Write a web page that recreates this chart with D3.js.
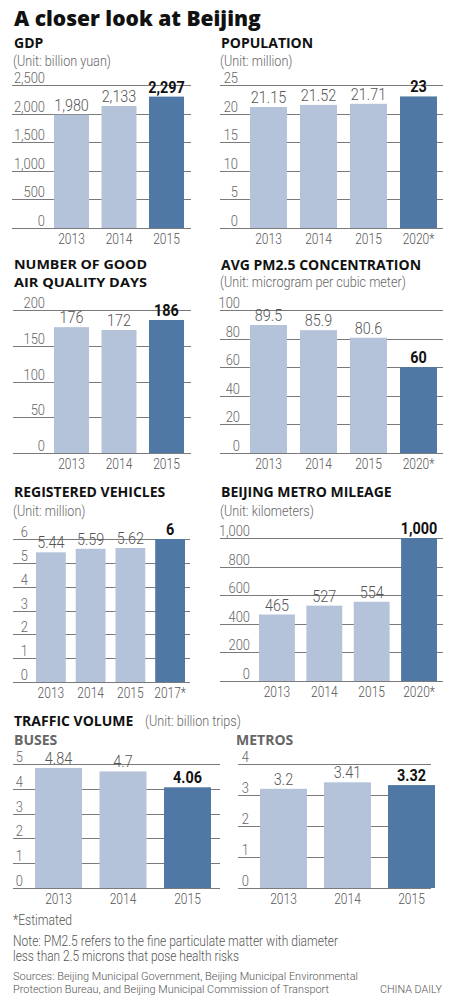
<!DOCTYPE html>
<html><head><meta charset="utf-8">
<script src="https://cdn.jsdelivr.net/npm/d3@7"></script>
<style>
html,body{margin:0;padding:0;background:#fff;}
svg{display:block;}
</style></head>
<body>
<svg id="c" width="454" height="1001"></svg>
<script>
// ---------- data ----------
const gdpYears = ["2013", "2014", "2015"];
const gdpValues = [1980, 2133, 2297];
const gdpTicks = [0, 500, 1000, 1500, 2000, 2500];

const popYears = ["2013", "2014", "2015", "2020*"];
const popValues = [21.15, 21.52, 21.71, 23];
const popTicks = [0, 5, 10, 15, 20, 25];

const airYears = ["2013", "2014", "2015"];
const airValues = [176, 172, 186];
const airTicks = [0, 50, 100, 150, 200];

const pmYears = ["2013", "2014", "2015", "2020*"];
const pmValues = [89.5, 85.9, 80.6, 60];
const pmTicks = [0, 20, 40, 60, 80, 100];

const vehYears = ["2013", "2014", "2015", "2017*"];
const vehValues = [5.44, 5.59, 5.62, 6];
const vehTicks = [0, 1, 2, 3, 4, 5, 6];

const metroYears = ["2013", "2014", "2015", "2020*"];
const metroValues = [465, 527, 554, 1000];
const metroTicks = [0, 200, 400, 600, 800, 1000];

const busYears = ["2013", "2014", "2015"];
const busValues = [4.84, 4.7, 4.06];
const busTicks = [0, 1, 2, 3, 4, 5];

const metroTripYears = ["2013", "2014", "2015"];
const metroTripValues = [3.2, 3.41, 3.32];
const metroTripTicks = [0, 1, 2, 3, 4];

// ---------- styles ----------
const LIGHT = "#b4c3da", DARK = "#4f78a4", GRID = "#7a7a7a";
const NUMFONT = "Roboto, 'Open Sans', sans-serif";
const HEADFONT = "'Open Sans', Roboto, sans-serif";

const svg = d3.select("#c");

function condense(sel, f) {
  sel.each(function () {
    const len = this.getComputedTextLength();
    d3.select(this).attr("textLength", len * f).attr("lengthAdjust", "spacingAndGlyphs");
  });
}

function panel(o) {
  const g = svg.append("g");
  const y = d3.scaleLinear().domain([0, d3.max(o.ticks)]).range([o.y0, o.yTop]);
  const x = d3.scaleBand().domain(o.years).range([o.bx0, o.bx1]).paddingInner(o.pad).paddingOuter(0);

  g.selectAll("line.grid").data(o.ticks).join("line")
    .attr("x1", o.gx0).attr("x2", o.gx1)
    .attr("y1", d => Math.round(y(d)) + 0.5).attr("y2", d => Math.round(y(d)) + 0.5)
    .attr("stroke", GRID).attr("stroke-width", 1);

  const tl = g.selectAll("text.tick").data(o.ticks).join("text")
    .attr("x", o.tickX).attr("y", d => y(d) - 2)
    .attr("text-anchor", "end")
    .attr("font-family", NUMFONT).attr("font-weight", 300).attr("font-size", 15)
    .attr("fill", "#666")
    .text(d => d3.format(",")(d));
  condense(tl, 0.86);

  const n = o.values.length;
  g.selectAll("rect.bar").data(o.values).join("rect")
    .attr("x", (d, i) => x(o.years[i]))
    .attr("width", x.bandwidth())
    .attr("y", d => y(d))
    .attr("height", d => o.y0 - y(d))
    .attr("fill", (d, i) => i === n - 1 ? DARK : LIGHT);

  const vl = g.selectAll("text.val").data(o.values).join("text")
    .attr("x", (d, i) => x(o.years[i]) + x.bandwidth() / 2)
    .attr("y", d => y(d) - 4)
    .attr("text-anchor", "middle")
    .attr("font-family", NUMFONT)
    .attr("font-weight", (d, i) => i === n - 1 ? 700 : 300)
    .attr("font-size", 16)
    .attr("fill", (d, i) => i === n - 1 ? "#111" : "#555")
    .text(d => d3.format(",")(d));
  condense(vl, 0.9);

  const yl = g.selectAll("text.year").data(o.years).join("text")
    .attr("x", d => x(d) + x.bandwidth() / 2)
    .attr("y", o.y0 + 16)
    .attr("text-anchor", "middle")
    .attr("font-family", NUMFONT).attr("font-weight", 300).attr("font-size", 15)
    .attr("fill", "#555")
    .text(d => d);
  condense(yl, 0.8);
}

function head(txt, x, y, size, color, weight) {
  return svg.append("text").attr("x", x).attr("y", y)
    .attr("font-family", HEADFONT).attr("font-weight", weight || 700)
    .attr("font-size", size).attr("fill", color || "#111").text(txt);
}
function unit(txt, x, y) {
  const t = svg.append("text").attr("x", x).attr("y", y)
    .attr("font-family", NUMFONT).attr("font-weight", 300)
    .attr("font-size", 14).attr("fill", "#666").text(txt);
  condense(t, 0.9);
  return t;
}

// Title
head("A closer look at Beijing", 14, 26, 21, "#111", 800);

// GDP
head("GDP", 14, 48, 14);
unit("(Unit: billion yuan)", 13, 66);
panel({years: gdpYears, values: gdpValues, ticks: gdpTicks,
  gx0: 12, gx1: 191, y0: 228, yTop: 85, bx0: 54, bx1: 184, pad: 0.263, tickX: 45});

// Population
head("POPULATION", 221, 48, 14);
unit("(Unit: million)", 220, 66);
panel({years: popYears, values: popValues, ticks: popTicks,
  gx0: 220, gx1: 443, y0: 228, yTop: 85, bx0: 250, bx1: 437, pad: 0.26, tickX: 238});

// Air quality days (two-line heading)
head("NUMBER OF GOOD", 14, 269, 13).attr("textLength", 133).attr("lengthAdjust", "spacingAndGlyphs");
head("AIR QUALITY DAYS", 14, 287, 13).attr("textLength", 133).attr("lengthAdjust", "spacingAndGlyphs");
panel({years: airYears, values: airValues, ticks: airTicks,
  gx0: 13, gx1: 191, y0: 453, yTop: 310, bx0: 54, bx1: 184, pad: 0.263, tickX: 45});

// PM2.5
head("AVG PM2.5 CONCENTRATION", 221, 270, 14);
unit("(Unit: microgram per cubic meter)", 220, 287);
panel({years: pmYears, values: pmValues, ticks: pmTicks,
  gx0: 220, gx1: 443, y0: 453, yTop: 310, bx0: 250, bx1: 437, pad: 0.26, tickX: 240});

// Vehicles
head("REGISTERED VEHICLES", 14, 497, 14);
unit("(Unit: million)", 13, 516);
panel({years: vehYears, values: vehValues, ticks: vehTicks,
  gx0: 13, gx1: 190, y0: 682, yTop: 539, bx0: 36, bx1: 185, pad: 0.25, tickX: 28});

// Metro mileage
head("BEIJING METRO MILEAGE", 221, 497, 14);
unit("(Unit: kilometers)", 220, 516);
panel({years: metroYears, values: metroValues, ticks: metroTicks,
  gx0: 220, gx1: 443, y0: 681, yTop: 538, bx0: 259, bx1: 437, pad: 0.242, tickX: 250});

// Traffic volume
head("TRAFFIC VOLUME", 14, 726, 14);
unit("(Unit: billion trips)", 145, 726);
head("BUSES", 14, 745, 14, "#666");
panel({years: busYears, values: busValues, ticks: busTicks,
  gx0: 13, gx1: 220, y0: 888, yTop: 764, bx0: 35, bx1: 211, pad: 0.271, tickX: 23});
head("METROS", 236, 745, 14, "#666");
panel({years: metroTripYears, values: metroTripValues, ticks: metroTripTicks,
  gx0: 238, gx1: 431, y0: 888, yTop: 764, bx0: 260, bx1: 435, pad: 0.266, tickX: 249});

// Footer
function foot(txt, x, y, size, anchor, w) {
  const t = svg.append("text").attr("x", x).attr("y", y)
    .attr("font-family", NUMFONT).attr("font-weight", 300)
    .attr("font-size", size).attr("fill", "#555")
    .attr("text-anchor", anchor || "start").text(txt);
  if (w) t.attr("textLength", w).attr("lengthAdjust", "spacingAndGlyphs");
  return t;
}
foot("*Estimated", 13, 925, 14, "start", 59);
foot("Note: PM2.5 refers to the fine particulate matter with diameter", 13, 946, 14, "start", 325);
foot("less than 2.5 microns that pose health risks", 13, 961, 14, "start", 226);
foot("Sources: Beijing Municipal Government, Beijing Municipal Environmental", 13, 980, 11.5, "start", 345);
foot("Protection Bureau, and Beijing Municipal Commission of Transport", 13, 993, 11.5, "start", 316);
foot("CHINA DAILY", 442, 993, 11.5, "end", 62);
</script>
</body></html>
